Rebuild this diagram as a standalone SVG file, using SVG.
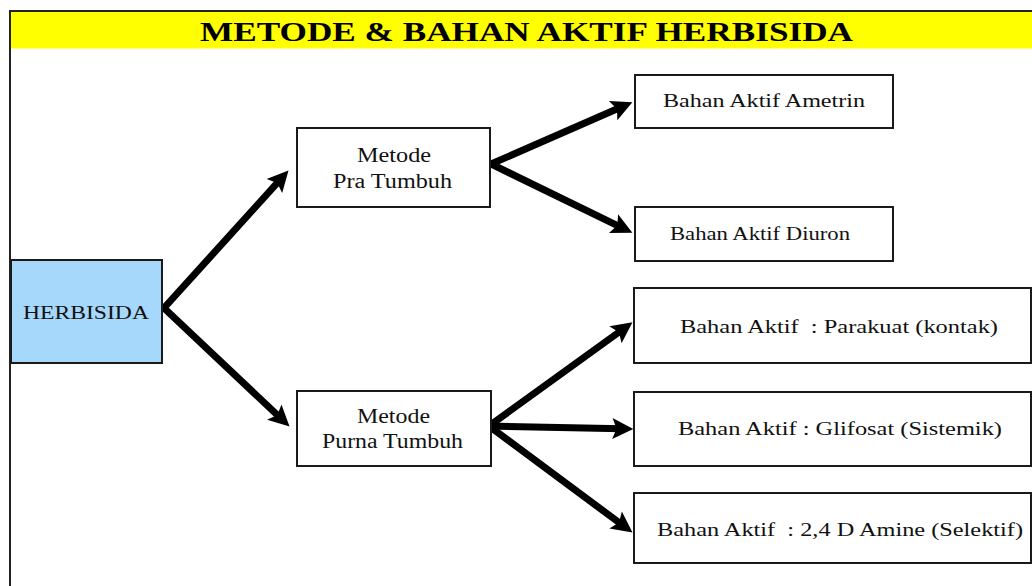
<svg xmlns="http://www.w3.org/2000/svg" width="1032" height="586" viewBox="0 0 1032 586">
<style>
.box{fill:#fff;stroke:#1a1a1a;stroke-width:2}
text{font-family:"Liberation Serif","Times New Roman","DejaVu Serif",serif}
.t{fill:#111;font-size:19px}
.m{font-size:20px}
.title{font-weight:bold;font-size:27px;fill:#000}
.con{fill:none;stroke:#000;stroke-width:7;stroke-linejoin:miter;stroke-miterlimit:10;marker-start:url(#ah);marker-end:url(#ah)}
.con1{fill:none;stroke:#000;stroke-width:7;marker-end:url(#ah)}
</style>
<defs>
<marker id="ah" viewBox="0 0 10 10" refX="4.6" refY="5" markerWidth="3.3" markerHeight="3" orient="auto-start-reverse" markerUnits="strokeWidth">
<path d="M0,0 L10,5 L0,10 L2,5 z" fill="#000"/>
</marker>
</defs>
<rect x="0" y="0" width="1032" height="586" fill="#fff"/>
<g id="frame">
<rect x="11" y="12" width="1021" height="36.5" fill="#ffff00"/>
<line x1="10" y1="11" x2="1032" y2="11" stroke="#222" stroke-width="2"/>
<line x1="10" y1="10" x2="10" y2="586" stroke="#222" stroke-width="2"/>
<text class="title" x="200" y="41" textLength="653" lengthAdjust="spacingAndGlyphs">METODE &amp; BAHAN AKTIF HERBISIDA</text>
</g>
<g id="connectors">
<path class="con" d="M280.9,178.9 L164,308 L281.3,418.8"/>
<path class="con" d="M622,106.8 L491,164 L622.2,227.8"/>
<path class="con" d="M623.3,329 L489,426 L623.4,525.8"/>
<path class="con1" d="M489,426 L622,428.75"/>
</g>
<g id="herbisida">
<rect x="11" y="260" width="151" height="103" fill="#a6d8fb" stroke="#1a1a1a" stroke-width="2"/>
<text class="t" x="23" y="319" textLength="126" lengthAdjust="spacingAndGlyphs">HERBISIDA</text>
</g>
<g id="pra">
<rect class="box" x="297" y="128" width="193" height="79"/>
<text class="t m" x="357" y="162" textLength="74" lengthAdjust="spacingAndGlyphs">Metode</text>
<text class="t m" x="333" y="188" textLength="119" lengthAdjust="spacingAndGlyphs">Pra Tumbuh</text>
</g>
<g id="purna">
<rect class="box" x="297" y="391" width="194" height="75"/>
<text class="t m" x="357" y="423" textLength="73" lengthAdjust="spacingAndGlyphs">Metode</text>
<text class="t m" x="322" y="448" textLength="141" lengthAdjust="spacingAndGlyphs">Purna Tumbuh</text>
</g>
<g id="ametrin">
<rect class="box" x="635" y="75" width="258" height="53"/>
<text class="t" x="663" y="107" textLength="202" lengthAdjust="spacingAndGlyphs">Bahan Aktif Ametrin</text>
</g>
<g id="diuron">
<rect class="box" x="635" y="207" width="258" height="54"/>
<text class="t" x="670" y="240" textLength="180" lengthAdjust="spacingAndGlyphs">Bahan Aktif Diuron</text>
</g>
<g id="parakuat">
<rect class="box" x="634" y="288" width="397" height="75"/>
<text class="t" x="680" y="333" textLength="318" lengthAdjust="spacingAndGlyphs" xml:space="preserve">Bahan Aktif  : Parakuat (kontak)</text>
</g>
<g id="glifosat">
<rect class="box" x="634" y="392" width="397" height="74"/>
<text class="t" x="678" y="435" textLength="324" lengthAdjust="spacingAndGlyphs">Bahan Aktif : Glifosat (Sistemik)</text>
</g>
<g id="amine">
<rect class="box" x="634" y="493" width="397" height="70"/>
<text class="t" x="657" y="536" textLength="366" lengthAdjust="spacingAndGlyphs" xml:space="preserve">Bahan Aktif  : 2,4 D Amine (Selektif)</text>
</g>
</svg>
